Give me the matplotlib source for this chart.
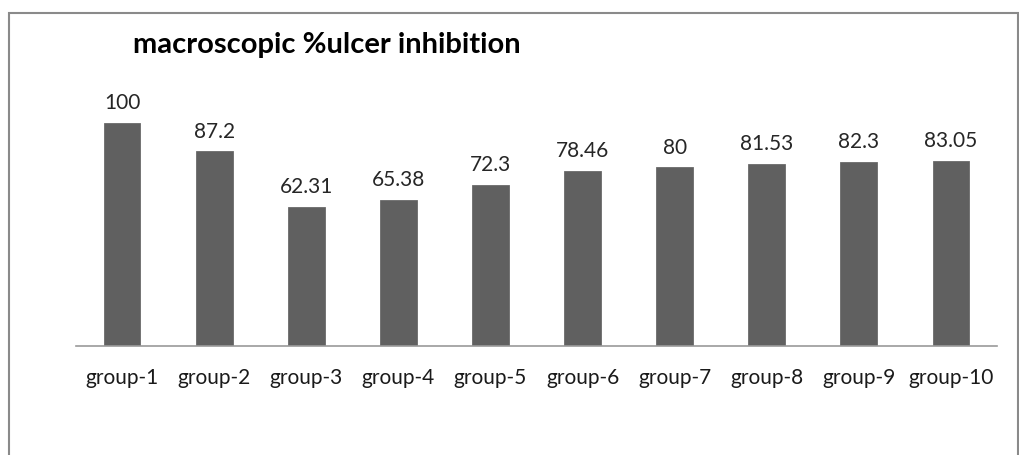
import matplotlib
matplotlib.use("Agg")
import matplotlib.pyplot as plt
from matplotlib.patches import Rectangle

categories = ["group-1", "group-2", "group-3", "group-4", "group-5",
              "group-6", "group-7", "group-8", "group-9", "group-10"]
values = [100, 87.2, 62.31, 65.38, 72.3, 78.46, 80, 81.53, 82.3, 83.05]
value_labels = ["100", "87.2", "62.31", "65.38", "72.3", "78.46", "80", "81.53", "82.3", "83.05"]
title = "macroscopic %ulcer inhibition"

W, H = 1020, 455
fig = plt.figure(figsize=(W / 100, H / 100), dpi=100)
fig.patch.set_facecolor("white")

# outer frame
fig.patches.append(Rectangle((9 / W, -0.05), (1018 - 9) / W, 1 - 13 / H + 0.05,
                             transform=fig.transFigure, fill=False,
                             edgecolor="#8a8a8a", linewidth=1.5))

ax = fig.add_axes([76 / W, 1 - 346 / H, (997 - 76) / W, (346 - 78) / H])
x = list(range(len(categories)))
ax.bar(x, values, width=0.40, color="#606060", edgecolor="#6a6a6a", linewidth=0.6)
ax.set_xlim(-0.5, len(categories) - 0.5)
ax.set_ylim(0, 120)
for xi, v, lab in zip(x, values, value_labels):
    ax.annotate(lab, (xi, v), xytext=(0, 7), textcoords="offset points",
                ha="center", va="bottom", fontsize=15, family="Lato",
                color="#262626")
ax.set_xticks(x)
ax.set_xticklabels(categories, fontsize=15, family="Lato", color="#1a1a1a")
ax.tick_params(axis="x", length=0, pad=16)
ax.set_yticks([])
for s in ["left", "right", "top"]:
    ax.spines[s].set_visible(False)
ax.spines["bottom"].set_color("#9a9a9a")
ax.spines["bottom"].set_linewidth(1.2)

fig.text(133 / W, 1 - 45 / H, title, ha="left", va="center",
         fontsize=21, fontweight="bold", family="Lato", color="black")

fig.savefig("out.png", dpi=100, facecolor="white")
